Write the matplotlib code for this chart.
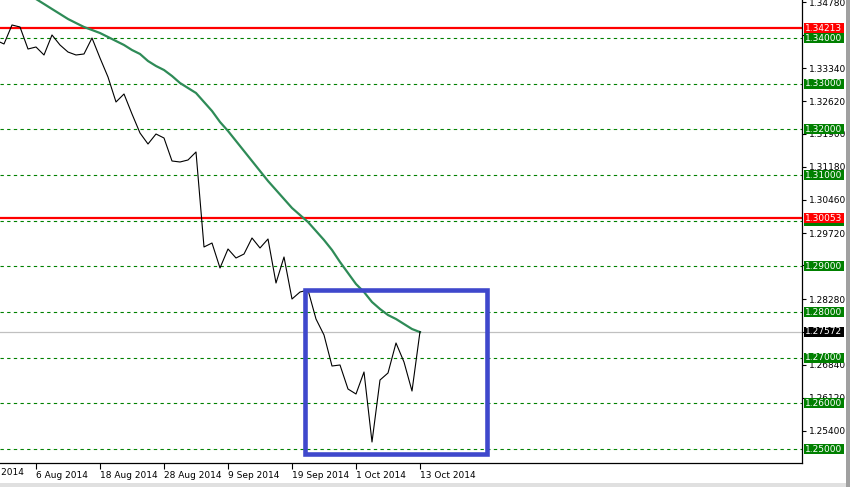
import matplotlib
matplotlib.use("Agg")
import matplotlib.pyplot as plt
from matplotlib.patches import Rectangle

# bar index 0 = 6 Aug 2014, one bar per trading day
close_start = -5
close = [
    1.33950, 1.33869, 1.34285, 1.34241, 1.33759, 1.33803, 1.33628, 1.34066,
    1.33847, 1.33693, 1.33628, 1.33650, 1.34000, 1.33562, 1.33146, 1.32599,
    1.32774, 1.32336, 1.31920, 1.31679, 1.31898, 1.31810, 1.31307, 1.31285,
    1.31329, 1.31504, 1.29424, 1.29511, 1.28964, 1.29380, 1.29183, 1.29270,
    1.29621, 1.29402, 1.29599, 1.28635, 1.29205, 1.28285, 1.28438, 1.28482,
    1.27847, 1.27497, 1.26818, 1.26840, 1.26314, 1.26205, 1.26687, 1.25154,
    1.26511, 1.26665, 1.27322, 1.26905, 1.26270, 1.27572,
]

ma_start = 0
ma = [
    1.34854, 1.34745, 1.34635, 1.34526, 1.34416, 1.34328, 1.34241, 1.34175,
    1.34109, 1.34022, 1.33934, 1.33847, 1.33737, 1.33650, 1.33496, 1.33387,
    1.33299, 1.33168, 1.33015, 1.32905, 1.32796, 1.32599, 1.32402, 1.32161,
    1.31964, 1.31745, 1.31526, 1.31307, 1.31088, 1.30869, 1.30672, 1.30475,
    1.30278, 1.30124, 1.29971, 1.29774, 1.29577, 1.29358, 1.29095, 1.28854,
    1.28613, 1.28438, 1.28219, 1.28066, 1.27934, 1.27847, 1.27737, 1.27628,
    1.27560,
]

green_levels = [1.34, 1.33, 1.32, 1.31, 1.30, 1.29, 1.28, 1.27, 1.26, 1.25]
red_levels = [1.34213, 1.30053]
last_price = 1.27572

date_pos = [-8, 0, 8, 16, 24, 32, 40, 48]
date_labels = ["25 Jul 2014", "6 Aug 2014", "18 Aug 2014", "28 Aug 2014",
               "9 Sep 2014", "19 Sep 2014", "1 Oct 2014", "13 Oct 2014"]

price_ticks = [1.3478, 1.3406, 1.3334, 1.3262, 1.3190, 1.3118, 1.3046, 1.2973,
               1.2902, 1.2828, 1.2756, 1.2684, 1.2612, 1.2540, 1.2468]
price_labels = ["1.34780", "", "1.33340", "1.32620", "1.31900", "1.31180",
                "1.30460", "1.29720", "", "1.28280", "", "1.26840", "1.26120",
                "1.25400", "1.24680"]

# highlighted box: bars / prices
box_x = [33.6, 56.4]
box_y = [1.24902, 1.28493]

W, H = 850, 487
fig = plt.figure(figsize=(W / 100, H / 100), dpi=100)
ax = fig.add_axes([0, 24 / H, 802 / W, 463 / H])
px_per_unit = 4567.0

for lv in green_levels:
    ax.axhline(lv, color="#008000", lw=0.8, ls=(0, (3, 3)), zorder=1)
for lv in red_levels:
    ax.axhline(lv, color="#FF0000", lw=1.6, zorder=2)
ax.axhline(last_price, color="#C0C0C0", lw=0.9, zorder=1)

xs = [close_start + i for i in range(len(close))]
ax.plot(xs, close, color="black", lw=0.8, zorder=4)
xm = [ma_start + i for i in range(len(ma))]
ax.plot(xm, ma, color="#2E8B57", lw=1.6, zorder=3)

ax.add_patch(Rectangle((box_x[0], box_y[0]), box_x[1] - box_x[0],
                       box_y[1] - box_y[0], fill=False,
                       edgecolor="#3F48CC", lw=3.3, zorder=5))

# axes styling
for s in ["top", "left"]:
    ax.spines[s].set_visible(False)
ax.spines["right"].set_linewidth(0.9)
ax.spines["bottom"].set_linewidth(0.9)
ax.yaxis.tick_right()
ax.set_yticks(price_ticks)
ax.set_yticklabels(price_labels)
ax.tick_params(axis="y", length=3, width=0.8, pad=2, labelsize=6.5)
ax.set_xticks(date_pos[1:])
ax.set_xticklabels(date_labels[1:], ha="left")
ax.tick_params(axis="x", length=4, width=0.8, pad=2, labelsize=6.5)

ax.set_xlim(-4.5, 95.75)
ax.set_ylim(1.34 - 425 / px_per_unit, 1.34 + 38 / px_per_unit)

# first date label lies left of the view, only its tail shows
xtr = ax.get_xaxis_transform()
ax.text(date_pos[0] + 0.15, -0.0105, date_labels[0], transform=xtr,
        fontsize=6.5, ha="left", va="top", clip_on=False)

# price boxes on the right
ytr = ax.get_yaxis_transform()
box_h = 10 / px_per_unit


def price_box(val, color, show_text=True):
    ax.add_patch(Rectangle((804 / 802, val - box_h / 2), 40 / 802, box_h,
                           transform=ytr, facecolor=color, edgecolor="none",
                           clip_on=False, zorder=10))
    if show_text:
        ax.text(824 / 802, val, "%.5f" % val, transform=ytr, color="white",
                fontsize=6.5, ha="center", va="center", clip_on=False,
                zorder=11)


for lv in green_levels:
    # the 1.30000 box sits under the red 1.30053 box
    price_box(lv, "#008000", show_text=abs(lv - 1.30) > 1e-9)
for lv in red_levels:
    price_box(lv, "#FF0000")
price_box(last_price, "#000000")

# window border bits
fig.patches.append(Rectangle((846 / W, 0), 4 / W, 1, transform=fig.transFigure,
                             facecolor="#A0A0A0", edgecolor="none"))
fig.patches.append(Rectangle((0, 0), 846 / W, 4 / H, transform=fig.transFigure,
                             facecolor="#E0E0E0", edgecolor="none"))

fig.savefig("out.png", dpi=100)
